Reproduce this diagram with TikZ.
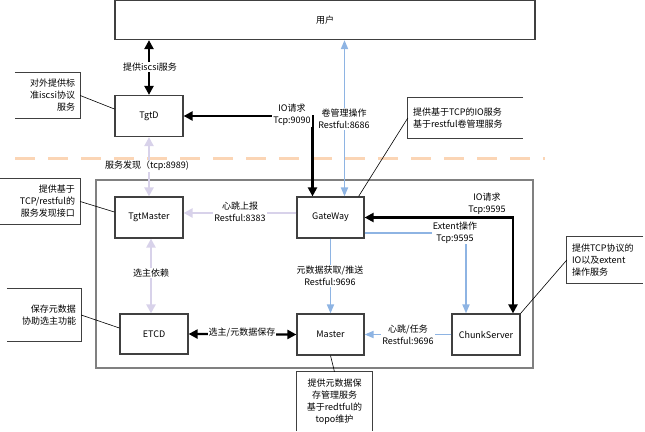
\documentclass[tikz,border=0pt]{standalone}
\usepackage{fontspec}
\setmainfont{Noto Sans CJK SC}
\usetikzlibrary{arrows.meta}
\definecolor{boxgray}{RGB}{64,64,64}
\definecolor{framegray}{RGB}{128,128,128}
\definecolor{lavender}{RGB}{216,210,234}
\definecolor{lightblue}{RGB}{142,180,227}
\definecolor{peach}{RGB}{251,213,181}
\begin{document}
\begin{tikzpicture}[x=1pt, y=-1pt, font=\fontsize{9}{12}\selectfont]
\tikzstyle{box}=[draw=boxgray, line width=1.2pt, fill=white, minimum width=68pt, minimum height=41pt, inner sep=0pt];
\tikzstyle{note}=[inner xsep=5pt, inner ysep=0pt];
\tikzstyle{bracket}=[draw=boxgray, line width=1pt];
\tikzstyle{lbl}=[fill=white, inner sep=1pt, align=center];
\tikzstyle{blackline}=[line width=2.2pt, >={Triangle[length=9pt, width=9pt]}];
\tikzstyle{blueline}=[lightblue, line width=1.8pt, >={Triangle[length=9pt, width=7pt]}];
\tikzstyle{purpleline}=[lavender, line width=2.8pt, >={Triangle[length=9pt, width=9pt]}];
\useasboundingbox (0,0) rectangle (645,431);
% frame and dashed split
\draw[framegray, line width=1.5pt] (96,180) rectangle (533,368);
\draw[peach, line width=3pt, dash pattern=on 20pt off 13pt] (15,158) -- (545,158);
% main boxes
\node[box, minimum width=420pt, minimum height=39pt] (user) at (325,20) {用户};
\node[box] (tgtd) at (149,116) {TgtD};
\node[box] (tgtmaster) at (149,217.5) {TgtMaster};
\node[box, minimum width=67pt] (gateway) at (330.5,217.5) {GateWay};
\node[box, minimum height=40pt] (etcd) at (154,334) {ETCD};
\node[box, minimum width=67pt] (master) at (330.5,334.5) {Master};
\node[box] (chunk) at (486,334.5) {ChunkServer};
% connectors
\draw[blackline, <->] (tgtd.north |- user.south) -- (tgtd.north);
\draw[blackline, <->] (tgtd.east) -| ([xshift=-18pt]gateway.north);
\draw[blueline, <->] ([xshift=14pt]gateway.north |- user.south) -- ([xshift=14pt]gateway.north);
\draw[purpleline, <->] (tgtd.south) -- (tgtmaster.north);
\draw[purpleline, ->] ([yshift=4.5pt]gateway.west) -- ([yshift=4.5pt]tgtmaster.east);
\draw[purpleline, <->] ([xshift=2pt]tgtmaster.south) -- ([xshift=2pt]tgtmaster.south |- etcd.north);
\draw[blackline, <->] (etcd.east) -- (master.west);
\draw[blueline, ->] (gateway.south) -- (master.north);
\draw[blueline, ->] ([yshift=-15.5pt]gateway.east) -| ([xshift=-20pt]chunk.north);
\draw[blackline, <->] ([xshift=27pt]chunk.north) |- (gateway.east);
\draw[blueline, ->] (chunk.west) -- (master.east);
% connector labels
\node[lbl] (l1) at (150,67) {提供iscsi服务};
\node[lbl] (l2) at (292,115) {IO请求\\Tcp:9090};
\node[lbl] (l3) at (344,119) {卷管理操作\\Restful:8686};
\node[lbl] (l4) at (147,166) {服务发现（tcp:8989)};
\node[lbl] (l5) at (240,212) {心跳上报\\Restful:8383};
\node[lbl] (l6) at (151,273) {选主依赖};
\node[lbl] (l7) at (242,333) {选主/元数据保存};
\node[lbl] (l8) at (330,276) {元数据获取/推送\\Restful:9696};
\node[lbl] (l9) at (455,232.5) {Extent操作\\Tcp:9595};
\node[lbl] (l10) at (487,204) {IO请求\\Tcp:9595};
\node[lbl] (l11) at (408,334.5) {心跳/任务\\Restful:9696};
% notes
\node[note, text width=55pt, minimum height=45pt, align=right] (n1) at (47.5,95.5) {对外提供标\\准iscsi协议\\服务};
\draw[bracket] (n1.north west) -- (n1.north east) -- (n1.south east) -- (n1.south west);
\node[note, text width=70pt, minimum height=45pt, align=right] (n2) at (40,201.5) {提供基于\\TCP/restful的\\服务发现接口};
\draw[bracket] (n2.north west) -- (n2.north east) -- (n2.south east) -- (n2.south west);
\node[note, text width=64pt, minimum height=52pt, align=right] (n3) at (44,315) {保存元数据\\协助选主功能};
\draw[bracket] (n3.north west) -- (n3.north east) -- (n3.south east) -- (n3.south west);
\node[note, text width=105pt, minimum height=40pt, align=left] (n4) at (465.5,118) {提供基于TCP的IO服务\\基于restful卷管理服务};
\draw[bracket] (n4.north east) -- (n4.north west) -- (n4.south west) -- (n4.south east);
\node[note, text width=66pt, minimum height=46pt, align=left] (n5) at (605,260) {提供TCP协议的\\IO以及extent\\操作服务};
\draw[bracket] (n5.north east) -- (n5.north west) -- (n5.south west) -- (n5.south east);
\node[note, text width=65pt, minimum height=59pt, align=center] (n6) at (334.5,401.5) {提供元数据保\\存管理服务\\基于redtful的\\topo维护};
\draw[bracket] (n6.south west) -- (n6.north west) -- (n6.north east) -- (n6.south east);
% note pointers
\draw[line width=0.6pt] (n1.east) -- ([yshift=7pt]tgtd.west);
\draw[line width=0.6pt] (n2.east) -- ([yshift=5.5pt]tgtmaster.west);
\draw[line width=0.6pt] (n3.east) -- ([yshift=6pt]etcd.west);
\draw[line width=0.6pt] (n4.west) -- ([xshift=-6pt]gateway.north east);
\draw[line width=0.6pt] (n5.west) -- (chunk.north east);
\draw[line width=0.6pt] (master.south) -- (n6.north);
\end{tikzpicture}
\end{document}
